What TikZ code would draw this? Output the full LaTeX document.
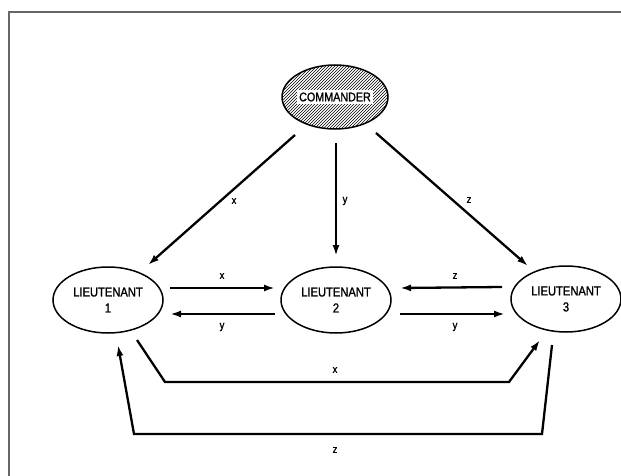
\documentclass[tikz,border=0pt]{standalone}
\usepackage{fontspec}
\setmainfont{Liberation Sans}[FakeStretch=0.86,FakeBold=1.2]
\usetikzlibrary{arrows.meta,patterns,shapes.geometric}
\tikzset{
  lt/.style={draw=black,line width=1.5pt,ellipse,minimum width=110pt,minimum height=66pt,inner sep=0pt,align=center,font=\fontsize{13}{16}\selectfont},
  conn/.style={line width=2.3pt,-{Latex[length=11pt,width=7pt]}},
  lab/.style={font=\fontsize{11}{11}\selectfont,inner sep=0pt}
}
\begin{document}
\begin{tikzpicture}[x=1pt,y=-1pt]
\useasboundingbox (0,0) rectangle (621,476);
\fill[white] (0,0) rectangle (621,476);
\draw[color=black!60,line width=1.5pt] (9,476) -- (9,12) -- (621,12);
% commander
\node[ellipse,draw=black,line width=1.5pt,pattern=north east lines,minimum width=106pt,minimum height=64pt] (C) at (335,97) {};
\node[fill=white,inner sep=2.5pt,font=\fontsize{12.5}{12.5}\selectfont] (Ct) at (C.center) {COMMANDER};
% lieutenants
\node[lt] (L1) at (108,300) {LIEUTENANT\\1};
\node[lt] (L2) at (336,300) {LIEUTENANT\\2};
\node[lt] (L3) at (566,299) {LIEUTENANT\\3};
% commander arrows
\draw[conn] ([shift={(-40,38)}]C.center) -- ([shift={(40,-35)}]L1.center);
\draw[conn] ([shift={(1,46)}]C.center) -- ([shift={(0,-44)}]L2.center);
\draw[conn] ([shift={(41,36)}]C.center) -- ([shift={(-38,-33)}]L3.center);
\node[lab] (lx) at (234,201) {x};
\node[lab] (ly) at (345,201) {y};
\node[lab] (lz) at (469,200) {z};
% horizontal arrows
\draw[conn] ([shift={(62,-12)}]L1.center) -- ([shift={(-61,-12)}]L2.center);
\draw[conn] ([shift={(-61,14)}]L2.center) -- ([shift={(62,14)}]L1.center);
\draw[conn] ([shift={(-64,-12)}]L3.center) -- ([shift={(64,-12)}]L2.center);
\draw[conn] ([shift={(64,14)}]L2.center) -- ([shift={(-61,15)}]L3.center);
\node[lab] (h1) at (222,276) {x};
\node[lab] (h2) at (222,327) {y};
\node[lab] (h3) at (455,276) {z};
\node[lab] (h4) at (455,327) {y};
% bottom arrows
\coordinate (b1) at (165,382);
\coordinate (b2) at (509,382);
\coordinate (b3) at (542,434);
\coordinate (b4) at (134,434);
\draw[conn,line join=miter] ([shift={(29,40)}]L1.center) -- (b1) -- (b2) -- ([shift={(-26,41)}]L3.center);
\draw[conn,line join=miter] ([shift={(-14,46)}]L3.center) -- (b3) -- (b4) -- ([shift={(10,45)}]L1.center);
\node[lab] (bx) at (335,370) {x};
\node[lab] (bz) at (335,450) {z};
\end{tikzpicture}
\end{document}
